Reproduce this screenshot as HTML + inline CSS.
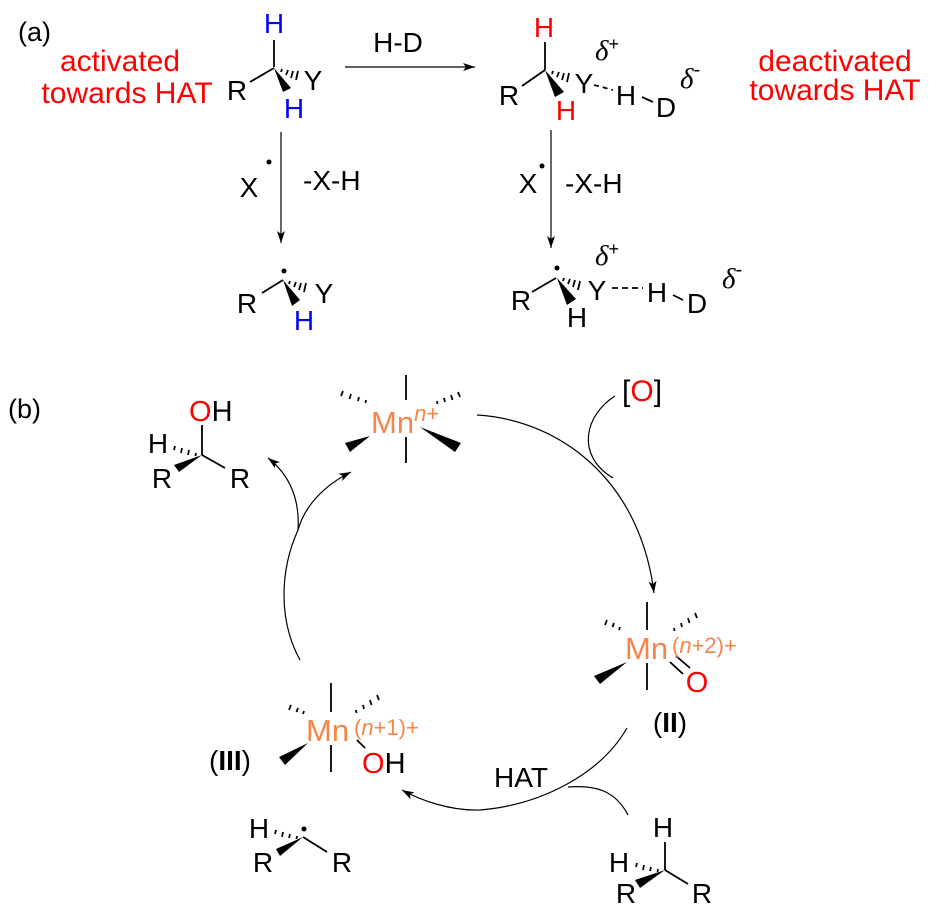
<!DOCTYPE html>
<html><head><meta charset="utf-8"><style>
html,body{margin:0;padding:0;background:#fff;}
svg{display:block;}
text{font-family:"Liberation Sans",sans-serif;}
.a{font-size:28px;text-anchor:middle;fill:#000;}
.r{fill:#ff0000;}
.b{fill:#0000ff;}
.mn{fill:#f5854a;}
.d{font-family:"Liberation Serif",serif;font-style:italic;font-size:29px;}
</style></head><body>
<svg width="950" height="913" viewBox="0 0 950 913" xmlns="http://www.w3.org/2000/svg">
<defs>
<marker id="ar" viewBox="0 0 12 8" refX="12" refY="4" markerWidth="12" markerHeight="8" markerUnits="userSpaceOnUse" orient="auto">
<path d="M0,0 L12,4 L0,8 L3,4 Z" fill="#000"/></marker>
</defs>
<g stroke="#000" stroke-width="1.8" fill="none">
<line x1="274" y1="40" x2="274" y2="67"/>
<line x1="250" y1="82" x2="274" y2="68"/>
<line x1="545" y1="42" x2="545" y2="70"/>
<line x1="522" y1="86" x2="545" y2="70"/>
<line x1="642" y1="97" x2="653" y2="102"/>
<line x1="594" y1="85" x2="613" y2="90" stroke-dasharray="5,4"/>
<line x1="262" y1="293" x2="283" y2="280"/>
<line x1="532" y1="292" x2="556" y2="278"/>
<line x1="612" y1="288" x2="643" y2="288" stroke-dasharray="6,4"/>
<line x1="673" y1="295" x2="683" y2="300"/>
<g stroke-width="1.8">
<path d="M281,72 l1,-3 M286,75 l2,-5 M291,78 l2,-7 M296,80 l2,-9"/>
<path d="M552,74 l1,-3 M557,77 l2,-5 M562,80 l2,-7 M567,82 l2,-9"/>
<path d="M289,284 l1,-3 M294,287 l2,-5 M299,290 l2,-7 M304,292 l2,-9"/>
<path d="M563,281 l1,-3 M568,284 l2,-5 M573,287 l2,-7 M578,290 l2,-9"/>
</g>
</g>
<g fill="#000">
<polygon points="274,68 283,92 291,88"/>
<polygon points="545,70 555,97 564,92"/>
<polygon points="283,280 292,306 300,300"/>
<polygon points="557,278 567,305 576,299"/>
</g>
<g stroke="#000" stroke-width="1.2" fill="none" marker-end="url(#ar)">
<line x1="345" y1="67" x2="475" y2="67"/>
<line x1="281" y1="132" x2="281" y2="243"/>
<line x1="551" y1="130" x2="551" y2="248"/>
</g>
<text x="18" y="41" style="font-size:27px">(a)</text>
<text x="120" y="71" class="a r" style="font-size:30px">activated</text>
<text x="127" y="103" class="a r" style="font-size:30px">towards HAT</text>
<text x="835" y="71" class="a r" style="font-size:30px">deactivated</text>
<text x="835" y="100" class="a r" style="font-size:30px">towards HAT</text>
<text x="398" y="52" class="a">H-D</text>
<text x="274" y="33" class="a b">H</text>
<text x="237" y="100" class="a">R</text>
<text x="294" y="118" class="a b">H</text>
<text x="313" y="90" class="a">Y</text>
<text x="544" y="37" class="a r">H</text>
<text x="509" y="105" class="a">R</text>
<text x="566" y="120" class="a r">H</text>
<text x="584" y="93" class="a">Y</text>
<text x="626" y="105" class="a">H</text>
<text x="666" y="117" class="a">D</text>
<text x="595" y="60" class="d">δ<tspan font-size="18" dy="-10" font-style="normal" font-family="Liberation Sans">+</tspan></text>
<text x="680" y="88" class="d">δ<tspan font-size="20" dy="-12" font-style="normal" font-family="Liberation Sans">-</tspan></text>
<text x="249" y="197" class="a">X</text>
<circle cx="269" cy="162" r="2.5"/>
<text x="303" y="190" style="font-size:28px">-X-H</text>
<text x="528" y="193" class="a">X</text>
<circle cx="542" cy="166" r="2.5"/>
<text x="565" y="193" style="font-size:28px">-X-H</text>
<circle cx="284" cy="271" r="2.5"/>
<text x="247" y="313" class="a">R</text>
<text x="304" y="330" class="a b">H</text>
<text x="324" y="303" class="a">Y</text>
<circle cx="557" cy="268" r="2.5"/>
<text x="521" y="310" class="a">R</text>
<text x="577" y="327" class="a">H</text>
<text x="597" y="300" class="a">Y</text>
<text x="657" y="302" class="a">H</text>
<text x="697" y="313" class="a">D</text>
<text x="595" y="265" class="d">δ<tspan font-size="18" dy="-10" font-style="normal" font-family="Liberation Sans">+</tspan></text>
<text x="722" y="288" class="d">δ<tspan font-size="20" dy="-12" font-style="normal" font-family="Liberation Sans">-</tspan></text>

<text x="8" y="418" style="font-size:27px">(b)</text>
<g stroke="#000" stroke-width="1.2" fill="none">
<path d="M477,415 C560,420 640,480 654,593" marker-end="url(#ar)"/>
<path d="M615,396 C585,415 575,455 613,478"/>
<path d="M627,728 C600,775 540,805 480,810 C450,811 420,800 402,790" marker-end="url(#ar)"/>
<path d="M628,815 C615,790 595,785 568,787"/>
<path d="M300,660 C278,620 280,570 298,530 C305,505 325,485 351,472" marker-end="url(#ar)"/>
<path d="M298,530 C300,500 290,475 268,458" marker-end="url(#ar)"/>
</g>
<text x="622" y="401" style="font-size:30px">[<tspan class="r">O</tspan>]</text>
<g stroke="#000" stroke-width="1.8" fill="none">
<line x1="406" y1="375" x2="406" y2="400"/>
<line x1="406" y1="437" x2="406" y2="463"/>
<path d="M343,391 l-2,5 M351,394 l-1.5,5 M359,397 l-1,4 M366,400 l-0.5,3"/>
<path d="M458,392 l2,5 M451,395 l1.5,5 M444,398 l1,4 M437,401 l0.5,3"/>
</g>
<polygon points="370,436 345,443 350,452" fill="#000"/>
<polygon points="420,427 455,452 461,443" fill="#000"/>
<text x="371" y="433" class="mn" style="font-size:31px">Mn<tspan font-style="italic" font-size="22" dy="-12">n</tspan><tspan font-size="22">+</tspan></text>
<g stroke="#000" stroke-width="1.8" fill="none">
<line x1="202" y1="425" x2="202" y2="455"/>
<line x1="202" y1="455" x2="225" y2="468"/>
<path d="M175,446 l-1,4 M182,448 l-1,5 M189,450 l-1,5 M196,453 l-0.5,3"/>
</g>
<polygon points="202,455 174,465 179,472" fill="#000"/>
<text x="189" y="421" style="font-size:29px"><tspan class="r">O</tspan>H</text>
<text x="158" y="453" class="a">H</text>
<text x="162" y="488" class="a">R</text>
<text x="240" y="488" class="a">R</text>
<g stroke="#000" stroke-width="1.8" fill="none">
<line x1="647" y1="602" x2="647" y2="630"/>
<line x1="647" y1="663" x2="647" y2="690"/>
<path d="M607,620 l-2,5 M614,623 l-1.5,4 M620,627 l-1,3"/>
<path d="M695,613 l2,5 M688,618 l1.5,5 M681,623 l1,4 M674,628 l0.5,3"/>
<line x1="670" y1="662" x2="683" y2="674"/>
<line x1="676" y1="656" x2="690" y2="668"/>
</g>
<polygon points="627,662 594,676 600,684" fill="#000"/>
<text x="625" y="659" class="mn" style="font-size:31px">Mn</text>
<text x="672" y="653" class="mn" style="font-size:22px">(<tspan font-style="italic">n</tspan>+2)+</text>
<text x="697" y="692" class="a r" style="font-size:29px">O</text>
<text x="670" y="732" class="a" style="font-size:28px">(<tspan font-weight="bold">II</tspan>)</text>
<g stroke="#000" stroke-width="1.8" fill="none">
<line x1="331" y1="683" x2="331" y2="712"/>
<line x1="331" y1="745" x2="331" y2="772"/>
<path d="M291,705 l-2,5 M298,708 l-1.5,4 M304,711 l-1,3"/>
<path d="M377,695 l2,5 M370,700 l1.5,5 M363,705 l1,4 M356,710 l0.5,3"/>
<line x1="357" y1="740" x2="365" y2="748"/>
</g>
<polygon points="308,743 279,757 285,765" fill="#000"/>
<text x="306" y="741" class="mn" style="font-size:31px">Mn</text>
<text x="354" y="735" class="mn" style="font-size:22px">(<tspan font-style="italic">n</tspan>+1)+</text>
<text x="362" y="773" style="font-size:29px"><tspan class="r">O</tspan>H</text>
<text x="230" y="770" class="a" style="font-size:28px">(<tspan font-weight="bold">III</tspan>)</text>
<g stroke="#000" stroke-width="1.8" fill="none">
<line x1="303" y1="837" x2="327" y2="852"/>
<path d="M276,830 l-1,4 M283,832 l-1,5 M290,834 l-1,4 M297,836 l-0.5,3"/>
</g>
<polygon points="303,837 276,849 280,856" fill="#000"/>
<circle cx="304" cy="829" r="2.5"/>
<text x="259" y="838" class="a">H</text>
<text x="263" y="872" class="a">R</text>
<text x="342" y="872" class="a">R</text>
<text x="494" y="787" style="font-size:28px">HAT</text>
<g stroke="#000" stroke-width="1.8" fill="none">
<line x1="665" y1="842" x2="665" y2="870"/>
<line x1="665" y1="870" x2="688" y2="884"/>
<path d="M637,863 l-1,4 M644,865 l-1,5 M651,867 l-1,4 M658,869 l-0.5,3"/>
</g>
<polygon points="665,870 635,880 640,888" fill="#000"/>
<text x="663" y="837" class="a">H</text>
<text x="619" y="872" class="a">H</text>
<text x="626" y="903" class="a">R</text>
<text x="702" y="903" class="a">R</text>
</svg>
</body></html>
